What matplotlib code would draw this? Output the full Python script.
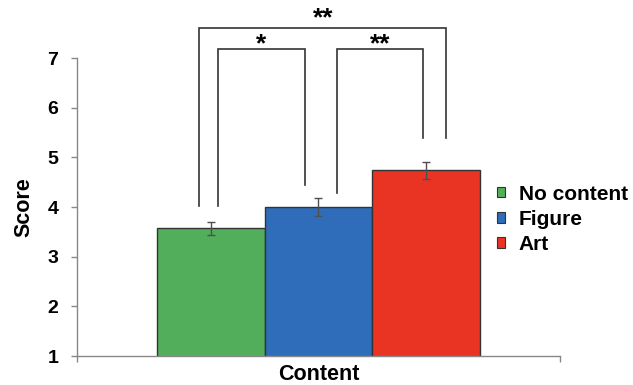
import matplotlib.pyplot as plt
from matplotlib.patches import Patch

plt.rcParams['font.family'] = ['Liberation Sans', 'DejaVu Sans']
plt.rcParams['font.weight'] = 'bold'

# mean scores per condition
groups = ['No content', 'Figure', 'Art']
scores = [3.57, 4.0, 4.74]
errors = [0.137, 0.18, 0.175]
colors = ['#52AE5B', '#2F6CBA', '#E93424']
positions = [-1, 0, 1]

# significance brackets: (x left, x right, y top, left foot, right foot, label, label y)
brackets = [
    (-1.11, 1.19, 7.60, 4.02, 5.39, '**', 7.66),
    (-0.935, -0.13, 7.18, 4.02, 4.44, '*', 7.13),
    (0.17, 0.975, 7.18, 4.29, 5.39, '**', 7.13),
]

fig = plt.figure(figsize=(6.33, 3.85), dpi=100)
ax = fig.add_axes([0.1216, 0.0753, 0.7631, 0.7740])

ax.bar(positions, scores, width=1.0, color=colors, edgecolor='#333333', linewidth=1.0)
ax.errorbar(positions, scores, yerr=errors, fmt='none', ecolor='#505050',
            elinewidth=1.0, capsize=3, capthick=1.0)

for x0, x1, top, f0, f1, label, ly in brackets:
    ax.plot([x0, x0, x1, x1], [f0, top, top, f1], color='#333333', lw=1.2,
            clip_on=False, solid_joinstyle='miter')
    ax.text((x0 + x1) / 2, ly, label, ha='center', va='baseline',
            fontsize=19, fontweight='bold')

ax.set_xlim(-2.247, 2.247)
ax.set_ylim(1, 7)
ax.set_yticks([1, 2, 3, 4, 5, 6, 7])
ax.set_xticks([-2.247, 2.247])
ax.set_xticklabels(['', ''])
ax.tick_params(axis='y', labelsize=14, length=4.5, width=1, color='#888888', pad=9)
ax.tick_params(axis='x', length=4, width=1, color='#888888')
for lbl in ax.get_yticklabels():
    lbl.set_fontweight('bold')

for side in ['top', 'right']:
    ax.spines[side].set_visible(False)
for side in ['left', 'bottom']:
    ax.spines[side].set_color('#888888')
    ax.spines[side].set_linewidth(1.0)

ax.set_ylabel('Score', fontsize=15.5, fontweight='bold', labelpad=9)
fig.text(0.503, 0.013, 'Content', ha='center', va='baseline',
         fontsize=15.5, fontweight='bold')

handles = [Patch(facecolor=c, edgecolor='#333333', linewidth=0.8) for c in colors]
fig.legend(handles, groups, loc='upper left', bbox_to_anchor=(0.772, 0.542),
           frameon=False, handlelength=0.4, handleheight=0.4,
           handletextpad=0.65, labelspacing=0.3, borderaxespad=0,
           prop={'weight': 'bold', 'size': 15})

fig.savefig('out.png', dpi=100)
